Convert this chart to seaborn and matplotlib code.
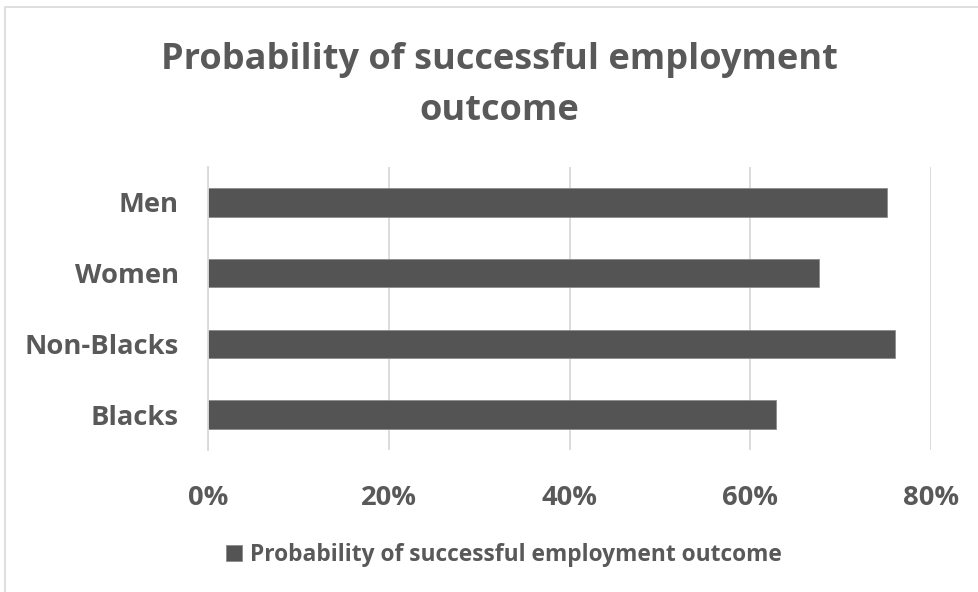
import matplotlib
matplotlib.use("Agg")
import matplotlib.pyplot as plt
from matplotlib.patches import Rectangle
from matplotlib.ticker import PercentFormatter
import seaborn as sns
import pandas as pd

# Share of each group with a successful employment outcome
categories = ["Men", "Women", "Non-Blacks", "Blacks"]
probabilities = [0.751, 0.676, 0.760, 0.628]
series_name = "Probability of successful employment outcome"
x_ticks = [0.0, 0.2, 0.4, 0.6, 0.8]

df = pd.DataFrame({"group": categories, "probability": probabilities})

sns.set_theme(style="white")
plt.rcParams["font.family"] = ["Open Sans", "DejaVu Sans"]

TEXT = "#595959"
BAR = "#545454"
GRID = "#d9d9d9"

W, H = 979, 592
fig = plt.figure(figsize=(W / 100, H / 100), dpi=100)
fig.patch.set_facecolor("white")

ax = fig.add_axes([208 / W, 1 - 450 / H, (931 - 208) / W, (450 - 167) / H])

sns.barplot(data=df, x="probability", y="group", order=categories,
            color=BAR, width=0.4, orient="h", ax=ax, label=series_name,
            saturation=1, edgecolor="#8c8c8c", linewidth=0.6)

ax.set_xlim(0, 0.8)
ax.set_xticks(x_ticks)
ax.xaxis.set_major_formatter(PercentFormatter(1.0, decimals=0))
ax.grid(axis="x", color=GRID, linewidth=1.3)
ax.set_axisbelow(True)
for side in ["top", "right", "bottom"]:
    ax.spines[side].set_visible(False)
ax.spines["left"].set_color(GRID)
ax.spines["left"].set_linewidth(1.3)
ax.set_xlabel("")
ax.set_ylabel("")
ax.tick_params(axis="both", length=0, colors=TEXT)
ax.tick_params(axis="y", pad=21)
ax.tick_params(axis="x", pad=25)
for lab in ax.get_yticklabels() + ax.get_xticklabels():
    lab.set_fontsize(19.7)
    lab.set_fontweight("bold")
    lab.set_color(TEXT)

fig.text(499 / W, 1 - 42 / H, "Probability of successful employment\noutcome",
         ha="center", va="top", fontsize=26, fontweight="bold",
         color=TEXT, linespacing=1.54)

leg = ax.legend(loc="center", bbox_to_anchor=(504 / W, 1 - 555 / H),
                bbox_transform=fig.transFigure, frameon=False,
                handlelength=0.7, handleheight=0.7, handletextpad=0.35,
                prop={"size": 16.4, "weight": "bold"})
for t in leg.get_texts():
    t.set_color(TEXT)

# chart frame
fig.patches.append(Rectangle((5 / W, -0.05), 1.2, 1.05 - 7 / H,
                             transform=fig.transFigure, fill=False,
                             edgecolor="#d9d9d9", linewidth=1.2))

fig.savefig("out.png", dpi=100, facecolor="white")
